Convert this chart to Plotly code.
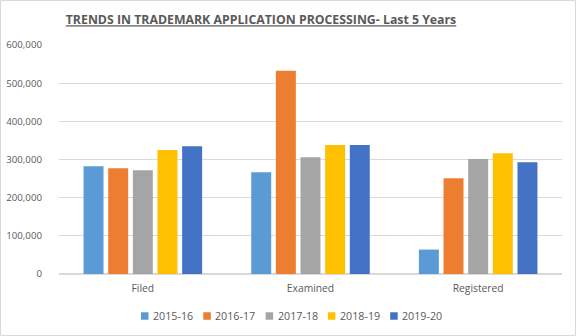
import plotly.graph_objects as go

categories = ["Filed", "Examined", "Registered"]
years = ["2015-16", "2016-17", "2017-18", "2018-19", "2019-20"]
v_2015_16 = [282500, 266700, 64000]
v_2016_17 = [277000, 532500, 251000]
v_2017_18 = [272000, 306000, 301000]
v_2018_19 = [324600, 337700, 316700]
v_2019_20 = [335000, 337700, 293000]
series = [v_2015_16, v_2016_17, v_2017_18, v_2018_19, v_2019_20]
colors = ["#5B9BD5", "#ED7D31", "#A5A5A5", "#FFC000", "#4472C4"]
yticks = [0, 100000, 200000, 300000, 400000, 500000, 600000]

W, H = 576, 336
ml, mr, mt, mb = 59, 14, 45, 62
pw, ph = W - ml - mr, H - mt - mb

fig = go.Figure()
for name, vals, c in zip(years, series, colors):
    fig.add_trace(go.Bar(x=categories, y=vals, name=name, marker_color=c,
                         marker_line_width=0, showlegend=False))

font = "Open Sans, Liberation Sans, sans-serif"

def px_x(x):
    return (x - ml) / pw

def px_y(y):
    return (mt + ph - y) / ph

# custom legend: squares + labels
shapes = [dict(type="rect", xref="paper", yref="paper",
               x0=-(ml - 0.5) / pw, x1=1 + (mr - 0.5) / pw,
               y0=-(mb - 0.5) / ph, y1=1 + (mt - 0.5) / ph,
               line=dict(color="#D9D9D9", width=1), layer="below")]
annotations = []
leg_y = 316
for i, (name, c) in enumerate(zip(years, colors)):
    x0 = 141 + i * 62.3
    shapes.append(dict(type="rect", xref="paper", yref="paper",
                       x0=px_x(x0), x1=px_x(x0 + 7.5),
                       y0=px_y(leg_y + 3.75), y1=px_y(leg_y - 3.75),
                       fillcolor=c, line=dict(width=0)))
    annotations.append(dict(text=name, xref="paper", yref="paper",
                            x=px_x(x0 + 10), y=px_y(leg_y), xanchor="left",
                            yanchor="middle", showarrow=False,
                            font=dict(size=10.7, color="#595959")))

fig.update_layout(
    width=W, height=H,
    margin=dict(l=ml, r=mr, t=mt, b=mb, autoexpand=False),
    paper_bgcolor="white", plot_bgcolor="white",
    barmode="group", bargap=0.265, bargroupgap=0.19,
    font=dict(family=font, size=10, color="#595959"),
    showlegend=False,
    title=dict(text="<u><b>TRENDS IN TRADEMARK APPLICATION PROCESSING- Last 5 Years</b></u>",
               x=261 / W, xanchor="center", y=1 - 20 / H, yanchor="middle",
               font=dict(family=font, size=12.3, color="#595959")),
    yaxis=dict(range=[0, 600000], tickvals=yticks, tickformat=",", showgrid=True,
               gridcolor="#D9D9D9", gridwidth=1, zeroline=True, zerolinecolor="#D9D9D9",
               showline=False, ticks="", ticklen=0, ticklabelstandoff=16,
               tickfont=dict(size=9.7, color="#595959")),
    xaxis=dict(showline=False, ticks="", ticklabelstandoff=7,
               tickfont=dict(size=10.3, color="#595959")),
    shapes=shapes,
    annotations=annotations,
)
fig.write_html("out.html")
